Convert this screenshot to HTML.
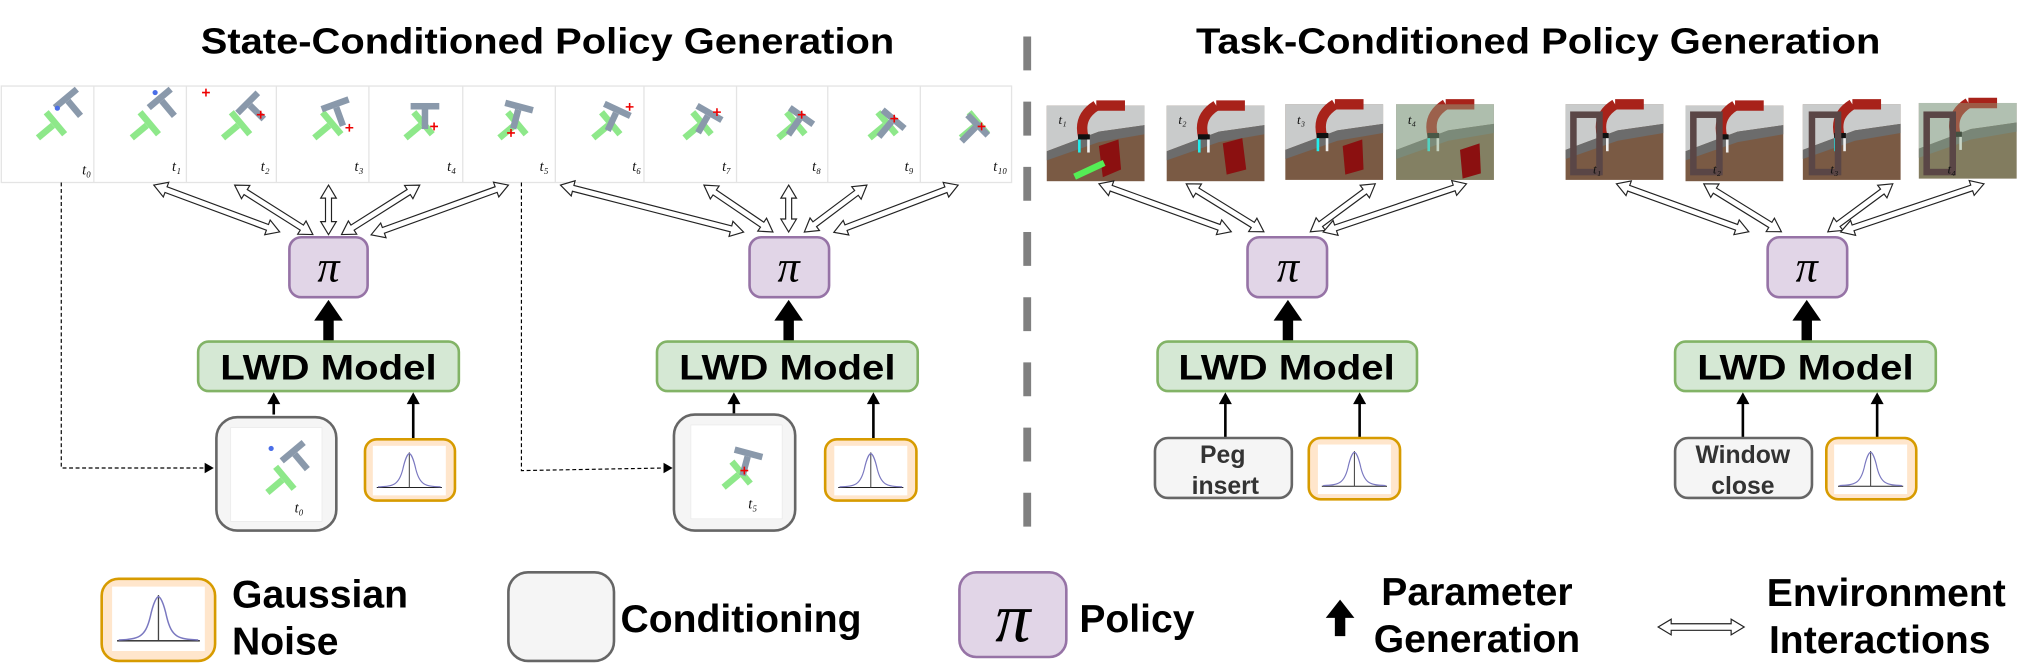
<!DOCTYPE html>
<html><head><meta charset="utf-8"><style>
html,body{margin:0;padding:0;background:#fff;overflow:hidden;}
svg{display:block}
text{font-family:"Liberation Sans",sans-serif;font-weight:bold;}
text.n{font-family:"Liberation Serif",serif;font-style:italic;font-weight:normal;}
</style></head><body>
<svg width="2044" height="663" viewBox="0 0 1568 508.6" preserveAspectRatio="none" xmlns="http://www.w3.org/2000/svg">
<defs>
<g id="tg"><rect x="-11" y="-11" width="22" height="5" fill="#8a99ab"/><rect x="-2.5" y="-6" width="5" height="15" fill="#8a99ab"/></g>
<g id="tgr"><rect x="-11" y="-11" width="22" height="5" fill="#8ee88a"/><rect x="-2.5" y="-6" width="5" height="15" fill="#8ee88a"/></g>
<g id="gauss">
<rect x="0" y="0" width="56" height="38" fill="#fff"/>
<line x1="3" y1="32" x2="53" y2="32" stroke="#222" stroke-width="0.8"/>
<line x1="28" y1="5" x2="28" y2="32" stroke="#444" stroke-width="0.8"/>
<path d="M4,31.5 C16,31 20,30 23,18 C25,9 27,6 28,6 C29,6 31,9 33,18 C36,30 40,31 52,31.5" fill="none" stroke="#7a78c0" stroke-width="0.9"/>
</g>
<g id="rob">
<rect x="0" y="0" width="75" height="58" fill="#7a5a44"/>
<polygon points="0,0 75,0 75,15 40,20 0,35" fill="#c9cbcb"/>
<polygon points="0,35 40,20 75,15 75,22 40,28 0,42" fill="#6c6c6c"/>
<path d="M38,0 C30,5 25,12 28,24" stroke="#a8221a" stroke-width="8" fill="none"/>
<path d="M38,0 L60,0" stroke="#a8221a" stroke-width="8"/>
<rect x="24" y="22" width="9" height="4" fill="#111"/>
<rect x="24" y="26" width="2" height="10" fill="#2ee"/>
<rect x="31" y="26" width="2" height="10" fill="#eee"/>
</g>
</defs>

<text x="420" y="41" font-size="28" text-anchor="middle" textLength="532" lengthAdjust="spacingAndGlyphs">State-Conditioned Policy Generation</text>
<text x="1180" y="41" font-size="28" text-anchor="middle" textLength="525" lengthAdjust="spacingAndGlyphs">Task-Conditioned Policy Generation</text>

<line x1="788" y1="28" x2="788" y2="412" stroke="#808080" stroke-width="6" stroke-dasharray="26,24"/>

<rect x="1" y="66" width="775" height="74" fill="#fff" stroke="#e4e4e4"/>
<g stroke="#e4e4e4" stroke-width="1">
<line x1="72" y1="66" x2="72" y2="140"/><line x1="143" y1="66" x2="143" y2="140"/><line x1="212" y1="66" x2="212" y2="140"/><line x1="283" y1="66" x2="283" y2="140"/><line x1="355" y1="66" x2="355" y2="140"/><line x1="426" y1="66" x2="426" y2="140"/><line x1="494" y1="66" x2="494" y2="140"/><line x1="565" y1="66" x2="565" y2="140"/><line x1="635" y1="66" x2="635" y2="140"/><line x1="706" y1="66" x2="706" y2="140"/>
</g>
<g>
<use href="#tgr" transform="translate(36,100) rotate(50)"/>
<use href="#tg" transform="translate(56,82) rotate(-40)"/><circle cx="44" cy="83" r="2" fill="#4a6ee8"/>
<use href="#tgr" transform="translate(108,100) rotate(50)"/>
<use href="#tg" transform="translate(128,82) rotate(-40)"/><circle cx="119" cy="71" r="2" fill="#4a6ee8"/>
<use href="#tgr" transform="translate(178,100) rotate(50)"/>
<use href="#tg" transform="translate(196,85) rotate(-45)"/>
<use href="#tgr" transform="translate(248,100) rotate(50)"/>
<use href="#tg" transform="translate(260,88) rotate(-20)"/>
<use href="#tgr" transform="translate(318,100) rotate(50)"/>
<use href="#tg" transform="translate(326,90) rotate(0)"/>
<use href="#tgr" transform="translate(390,100) rotate(50)"/>
<use href="#tg" transform="translate(396,90) rotate(15)"/>
<use href="#tgr" transform="translate(462,100) rotate(50)"/>
<use href="#tg" transform="translate(470,92) rotate(25)"/>
<use href="#tgr" transform="translate(532,100) rotate(50)"/>
<use href="#tg" transform="translate(540,94) rotate(30)"/>
<use href="#tgr" transform="translate(604,100) rotate(50)"/>
<use href="#tg" transform="translate(610,96) rotate(35)"/>
<use href="#tgr" transform="translate(674,100) rotate(50)"/>
<use href="#tg" transform="translate(680,98) rotate(40)"/>
<use href="#tgr" transform="translate(744,100) rotate(50)"/>
<use href="#tg" transform="translate(744,102) rotate(45)"/>
<g stroke="#e00" stroke-width="1.2">
<path d="M155,71 h6 M158,68 v6"/><path d="M197,88 h6 M200,85 v6"/><path d="M265,98 h6 M268,95 v6"/><path d="M330,97 h6 M333,94 v6"/><path d="M389,102 h6 M392,99 v6"/><path d="M480,82 h6 M483,79 v6"/><path d="M547,86 h6 M550,83 v6"/><path d="M612,88 h6 M615,85 v6"/><path d="M683,91 h6 M686,88 v6"/><path d="M750,97 h6 M753,94 v6"/>
</g>
</g>
<g font-size="11" fill="#111">
<text class="n" x="63" y="134">t₀</text><text class="n" x="132" y="131">t₁</text><text class="n" x="200" y="131">t₂</text><text class="n" x="272" y="131">t₃</text><text class="n" x="343" y="131">t₄</text><text class="n" x="414" y="131">t₅</text><text class="n" x="485" y="131">t₆</text><text class="n" x="554" y="131">t₇</text><text class="n" x="623" y="131">t₈</text><text class="n" x="694" y="131">t₉</text><text class="n" x="762" y="131">t₁₀</text>
</g>

<g>
<use href="#rob" transform="translate(803,81)"/><use href="#rob" transform="translate(895,81)"/><use href="#rob" transform="translate(986,80)"/><use href="#rob" transform="translate(1071,80)"/>
<rect x="1071" y="80" width="75" height="58" fill="#8fb08a" opacity="0.45"/>
<use href="#rob" transform="translate(1201,80)"/><use href="#rob" transform="translate(1293,81)"/><use href="#rob" transform="translate(1383,80)"/><use href="#rob" transform="translate(1472,79)"/>
<rect x="1472" y="79" width="75" height="58" fill="#8fb08a" opacity="0.4"/>
<g fill="#8b1010"><polygon points="843,112 858,107 860,130 846,136"/><polygon points="938,110 953,106 956,130 941,134"/><polygon points="1030,112 1045,107 1046,130 1032,134"/><polygon points="1120,115 1135,110 1136,133 1122,137"/></g>
<g fill="none" stroke="#5a4646" stroke-width="5"><rect x="1207" y="88" width="20" height="44"/><rect x="1299" y="88" width="20" height="44"/><rect x="1390" y="88" width="20" height="44"/><rect x="1478" y="88" width="20" height="44"/></g>
<rect x="823" y="128" width="25" height="5" fill="#5e5" transform="rotate(-25 835 130)"/>
<g font-size="10" fill="#111">
<text class="n" x="812" y="95">t₁</text><text class="n" x="904" y="95">t₂</text><text class="n" x="995" y="95">t₃</text><text class="n" x="1080" y="95">t₄</text>
<text class="n" x="1222" y="133">t₁</text><text class="n" x="1314" y="133">t₂</text><text class="n" x="1404" y="133">t₃</text><text class="n" x="1494" y="133">t₄</text>
</g>
</g>

<g fill="#fff" stroke="#222" stroke-width="0.9">
<polygon points="0,0 10,-6 10,-2.3 93,-2.3 93,-6 103,0 93,6 93,2.3 10,2.3 10,6" transform="translate(118,142) rotate(20.4)"/>
<polygon points="0,0 10,-6 10,-2.3 61,-2.3 61,-6 71,0 61,6 61,2.3 10,2.3 10,6" transform="translate(180,142) rotate(32.3)"/>
<polygon points="0,0 10,-6 10,-2.3 28,-2.3 28,-6 38,0 28,6 28,2.3 10,2.3 10,6" transform="translate(252,142) rotate(90)"/>
<polygon points="0,0 10,-6 10,-2.3 61,-2.3 61,-6 71,0 61,6 61,2.3 10,2.3 10,6" transform="translate(322,142) rotate(147.7)"/>
<polygon points="0,0 10,-6 10,-2.3 102,-2.3 102,-6 112,0 102,6 102,2.3 10,2.3 10,6" transform="translate(390,142) rotate(160.1)"/>
<polygon points="0,0 10,-6 10,-2.3 135,-2.3 135,-6 145,0 135,6 135,2.3 10,2.3 10,6" transform="translate(430,142) rotate(14.4)"/>
<polygon points="0,0 10,-6 10,-2.3 54,-2.3 54,-6 64,0 54,6 54,2.3 10,2.3 10,6" transform="translate(540,142) rotate(34.2)"/>
<polygon points="0,0 10,-6 10,-2.3 26,-2.3 26,-6 36,0 26,6 26,2.3 10,2.3 10,6" transform="translate(605,142) rotate(90)"/>
<polygon points="0,0 10,-6 10,-2.3 50,-2.3 50,-6 60,0 50,6 50,2.3 10,2.3 10,6" transform="translate(665,142) rotate(143.1)"/>
<polygon points="0,0 10,-6 10,-2.3 92,-2.3 92,-6 102,0 92,6 92,2.3 10,2.3 10,6" transform="translate(735,142) rotate(159.2)"/>
<polygon points="0,0 10,-6 10,-2.3 98,-2.3 98,-6 108,0 98,6 98,2.3 10,2.3 10,6" transform="translate(843,141) rotate(19.9)"/>
<polygon points="0,0 10,-6 10,-2.3 60,-2.3 60,-6 70,0 60,6 60,2.3 10,2.3 10,6" transform="translate(910,141) rotate(31.7)"/>
<polygon points="0,0 10,-6 10,-2.3 52,-2.3 52,-6 62,0 52,6 52,2.3 10,2.3 10,6" transform="translate(1055,141) rotate(143.5)"/>
<polygon points="0,0 10,-6 10,-2.3 106,-2.3 106,-6 116,0 106,6 106,2.3 10,2.3 10,6" transform="translate(1125,141) rotate(161.4)"/>
<polygon points="0,0 10,-6 10,-2.3 98,-2.3 98,-6 108,0 98,6 98,2.3 10,2.3 10,6" transform="translate(1240,141) rotate(19.9)"/>
<polygon points="0,0 10,-6 10,-2.3 60,-2.3 60,-6 70,0 60,6 60,2.3 10,2.3 10,6" transform="translate(1307,141) rotate(31.7)"/>
<polygon points="0,0 10,-6 10,-2.3 52,-2.3 52,-6 62,0 52,6 52,2.3 10,2.3 10,6" transform="translate(1452,141) rotate(143.5)"/>
<polygon points="0,0 10,-6 10,-2.3 106,-2.3 106,-6 116,0 106,6 106,2.3 10,2.3 10,6" transform="translate(1522,141) rotate(161.4)"/>
</g>

<g fill="#e1d5e7" stroke="#9673a6" stroke-width="2">
<rect x="222" y="182" width="60" height="46" rx="9"/>
<rect x="575" y="182" width="61" height="46" rx="9"/>
<rect x="957" y="182" width="61" height="46" rx="9"/>
<rect x="1356" y="182" width="61" height="46" rx="9"/>
</g>
<g font-size="34" text-anchor="middle" fill="#000">
<text class="n" x="252" y="216">π</text><text class="n" x="605" y="216">π</text><text class="n" x="988" y="216">π</text><text class="n" x="1386" y="216">π</text>
</g>

<g fill="#000">
<polygon points="248,262 248,246 241,246 252,230 263,246 256,246 256,262"/>
<polygon points="601,262 601,246 594,246 605,230 616,246 609,246 609,262"/>
<polygon points="984,262 984,246 977,246 988,230 999,246 992,246 992,262"/>
<polygon points="1382,262 1382,246 1375,246 1386,230 1397,246 1390,246 1390,262"/>
</g>

<g fill="#d5e8d4" stroke="#82b366" stroke-width="2">
<rect x="152" y="262" width="200" height="38" rx="8"/>
<rect x="504" y="262" width="200" height="38" rx="8"/>
<rect x="888" y="262" width="199" height="38" rx="8"/>
<rect x="1285" y="262" width="200" height="38" rx="8"/>
</g>
<g font-size="27" text-anchor="middle">
<text x="252" y="291" textLength="166" lengthAdjust="spacingAndGlyphs">LWD Model</text>
<text x="604" y="291" textLength="166" lengthAdjust="spacingAndGlyphs">LWD Model</text>
<text x="987" y="291" textLength="166" lengthAdjust="spacingAndGlyphs">LWD Model</text>
<text x="1385" y="291" textLength="166" lengthAdjust="spacingAndGlyphs">LWD Model</text>
</g>

<g stroke="#000" stroke-width="2">
<line x1="210" y1="318" x2="210" y2="308"/><line x1="317" y1="337" x2="317" y2="308"/>
<line x1="563" y1="318" x2="563" y2="308"/><line x1="670" y1="337" x2="670" y2="308"/>
<line x1="940" y1="336" x2="940" y2="308"/><line x1="1043" y1="336" x2="1043" y2="308"/>
<line x1="1337" y1="336" x2="1337" y2="308"/><line x1="1440" y1="336" x2="1440" y2="308"/>
</g>
<g fill="#000">
<polygon points="210,301 205,310 215,310"/><polygon points="317,301 312,310 322,310"/>
<polygon points="563,301 558,310 568,310"/><polygon points="670,301 665,310 675,310"/>
<polygon points="940,301 935,310 945,310"/><polygon points="1043,301 1038,310 1048,310"/>
<polygon points="1337,301 1332,310 1342,310"/><polygon points="1440,301 1435,310 1445,310"/>
</g>

<g fill="none" stroke="#000" stroke-width="0.9" stroke-dasharray="3,2">
<polyline points="47,140 47,359 158,359"/>
<polyline points="400,140 400,361 510,359"/>
</g>
<polygon points="164,359 157,355 157,363" fill="#000"/>
<polygon points="516,359 509,355 509,363" fill="#000"/>

<g fill="#f5f5f5" stroke="#666" stroke-width="2">
<rect x="166" y="320" width="92" height="87" rx="16"/>
<rect x="517" y="318" width="93" height="89" rx="16"/>
</g>
<rect x="177" y="328" width="70" height="72" fill="#fff" stroke="#e8e8e8" stroke-width="0.5"/>
<rect x="530" y="326" width="70" height="72" fill="#fff" stroke="#e8e8e8" stroke-width="0.5"/>
<use href="#tgr" transform="translate(212,372) rotate(50)"/>
<use href="#tg" transform="translate(230,353) rotate(-40)"/><circle cx="208" cy="344" r="2" fill="#4a6ee8"/>
<use href="#tgr" transform="translate(562,368) rotate(50)"/>
<use href="#tg" transform="translate(572,356) rotate(15)"/>
<g stroke="#e00" stroke-width="1.2"><path d="M568,361 h6 M571,358 v6"/></g>
<g font-size="11" fill="#111">
<text class="n" x="226" y="393">t₀</text><text class="n" x="574" y="390">t₅</text>
</g>

<g fill="#ffe6cc" stroke="#d79b00" stroke-width="2">
<rect x="280" y="337" width="69" height="47" rx="9"/>
<rect x="633" y="337" width="70" height="47" rx="9"/>
<rect x="1004" y="336" width="70" height="47" rx="9"/>
<rect x="1401" y="336" width="69" height="47" rx="9"/>
</g>
<use href="#gauss" transform="translate(286,342)"/>
<use href="#gauss" transform="translate(640,342)"/>
<use href="#gauss" transform="translate(1011,341)"/>
<use href="#gauss" transform="translate(1407,341)"/>

<g fill="#f5f5f5" stroke="#666" stroke-width="2">
<rect x="886" y="336" width="105" height="46" rx="10"/>
<rect x="1285" y="336" width="105" height="46" rx="10"/>
</g>
<g font-size="19" text-anchor="middle" fill="#333">
<text x="938" y="355">Peg</text><text x="940" y="379">insert</text>
<text x="1337" y="355">Window</text><text x="1337" y="379">close</text>
</g>

<rect x="78" y="444" width="87" height="63" rx="13" fill="#ffe6cc" stroke="#d79b00" stroke-width="2"/>
<g transform="translate(86,450) scale(1.27,1.3)"><use href="#gauss"/></g>
<text x="178" y="466" font-size="30">Gaussian</text>
<text x="178" y="502" font-size="30">Noise</text>
<rect x="390" y="439" width="81" height="68" rx="15" fill="#f5f5f5" stroke="#666" stroke-width="2"/>
<text x="476" y="485" font-size="30">Conditioning</text>
<rect x="736" y="439" width="82" height="65" rx="13" fill="#e1d5e7" stroke="#9673a6" stroke-width="2"/>
<text class="n" x="777" y="492" font-size="54" text-anchor="middle">π</text>
<text x="828" y="485" font-size="30">Policy</text>
<polygon points="1024,488 1024,474 1017,474 1028,460 1039,474 1032,474 1032,488" fill="#000"/>
<text x="1133" y="464" font-size="30" text-anchor="middle">Parameter</text>
<text x="1133" y="500" font-size="30" text-anchor="middle">Generation</text>
<polygon points="1272,481 1282,475 1282,478.5 1328,478.5 1328,475 1338,481 1328,487 1328,483.5 1282,483.5 1282,487" fill="#fff" stroke="#222" stroke-width="0.9"/>
<text x="1447" y="465" font-size="30" text-anchor="middle">Environment</text>
<text x="1442" y="501" font-size="30" text-anchor="middle">Interactions</text>
</svg>
</body></html>
